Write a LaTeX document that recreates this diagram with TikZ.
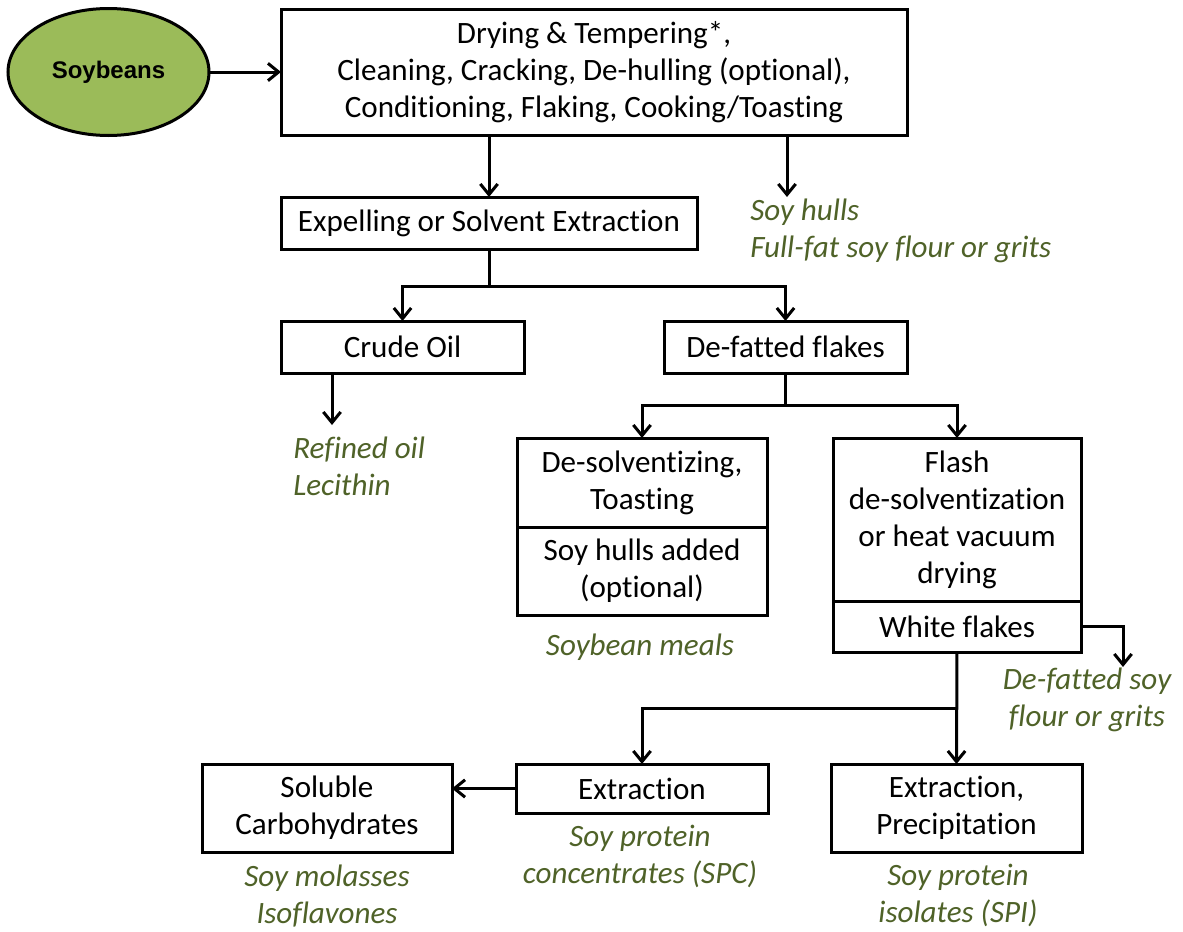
\documentclass[tikz,border=0pt]{standalone}
\usepackage{fontspec}
\setmainfont{Carlito}[Ligatures={NoCommon}]
\newfontfamily\soyfont{Liberation Sans}
\usetikzlibrary{shapes.geometric,arrows.meta}
\definecolor{soygreen}{HTML}{9BBB59}
\definecolor{outgreen}{HTML}{4F6228}
\newcommand{\pxl}[1]{#1*0.75pt}
\begin{document}
\begin{tikzpicture}[x=0.75pt,y=-0.75pt,
  box/.style={draw,line width=2.25pt,inner sep=0pt,outer sep=0pt,align=center,
    font=\fontsize{23.3pt}{27.75pt}\selectfont},
  outtext/.style={text=outgreen,inner sep=0pt,
    font=\fontsize{23.3pt}{27.75pt}\selectfont\itshape},
  conn/.style={line width=2.25pt},
  arr/.style={conn,-{Straight Barb[length=8pt,width=13pt]}}]
\useasboundingbox (0,0) rectangle (1183,932);

% start ellipse
\node[ellipse,draw,fill=soygreen,line width=2.25pt,inner sep=0pt,outer sep=0pt,
  minimum width=\pxl{201},minimum height=\pxl{127},
  font=\soyfont\bfseries\fontsize{18pt}{21pt}\selectfont] (soy) at (108.5,72) {Soybeans};

% boxes
\node[box,minimum width=\pxl{626},minimum height=\pxl{126}] (top) at (594,72)
  {Drying \& Tempering*,\\Cleaning, Cracking, De-hulling (optional),\\Conditioning, Flaking, Cooking/Toasting};
\node[box,minimum width=\pxl{416},minimum height=\pxl{52}] (exp) at (489,223) {Expelling or Solvent Extraction};
\node[box,minimum width=\pxl{243},minimum height=\pxl{52}] (crude) at (402.5,347) {Crude Oil};
\node[box,minimum width=\pxl{243},minimum height=\pxl{52}] (defat) at (785.5,347) {De-fatted flakes};
\node[box,minimum width=\pxl{250},minimum height=\pxl{89}] (desolv) at (642,482.5) {De-solventizing,\\Toasting};
\node[box,minimum width=\pxl{250},minimum height=\pxl{88}] (hulls) at (642,571) {Soy hulls added\\(optional)};
\node[box,minimum width=\pxl{248},minimum height=\pxl{163}] (flash) at (957,519.5) {Flash\\de-solventization\\or heat vacuum\\drying};
\node[box,minimum width=\pxl{248},minimum height=\pxl{51}] (white) at (957,626.5) {White flakes};
\node[box,minimum width=\pxl{252},minimum height=\pxl{49}] (ext) at (642,788.5) {Extraction};
\node[box,minimum width=\pxl{250},minimum height=\pxl{88}] (sol) at (327,808) {Soluble\\Carbohydrates};
\node[box,minimum width=\pxl{251},minimum height=\pxl{88}] (extp) at (956.5,808) {Extraction,\\Precipitation};

% output texts
\node[outtext,anchor=west,align=left] (hullsout) at (750,231) {Soy hulls\\Full-fat soy flour or grits};
\node[outtext,anchor=west,align=left] (oilout) at (293,466) {Refined oil\\Lecithin};
\node[outtext] (meals) at (640,647) {Soybean meals};
\node[outtext,align=center] (dfsoy) at (1087,700) {De-fatted soy\\flour or grits};
\node[outtext,align=center] (molas) at (327,896.5) {Soy molasses\\Isoflavones};
\node[outtext,align=center] (spc) at (640,856) {Soy protein\\concentrates (SPC)};
\node[outtext,align=center] (spi) at (958,895) {Soy protein\\isolates (SPI)};

% coordinates
\coordinate (hullend) at (787,197);
\coordinate (j1) at (489,286);
\coordinate (oilend) at (332,425);
\coordinate (j2) at (785.5,405);
\coordinate (wfend) at (1123,667);
\coordinate (j3) at (957,708);

% connectors
\draw[arr] (soy) -- (top);
\draw[arr] (top.south -| exp.north) -- (exp.north);
\draw[arr] (top.south -| hullend) -- (hullend);
\draw[conn] (exp.south) -- (j1);
\draw[arr] (j1) -| (crude.north);
\draw[arr] (j1) -| (defat.north);
\draw[arr] (crude.south -| oilend) -- (oilend);
\draw[conn] (defat.south) -- (j2);
\draw[arr] (j2) -| (desolv.north);
\draw[arr] (j2) -| (flash.north);
\draw[arr] (white.east) -| (wfend);
\draw[arr] (white.south) -- (extp.north);
\draw[arr] (j3) -| (ext.north);
\draw[arr] (ext.west) -- (ext.west -| sol.east);
\end{tikzpicture}
\end{document}
